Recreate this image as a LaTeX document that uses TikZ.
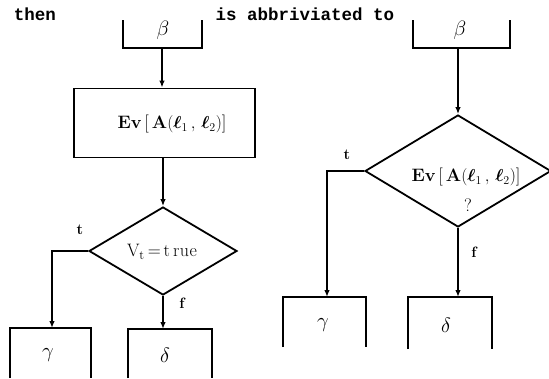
\documentclass[tikz,border=0pt]{standalone}
\usepackage{fontspec}
\usepackage{amsmath,bm}
\newfontfamily\typew{Liberation Mono}
\usetikzlibrary{shapes.geometric,arrows.meta}
\begin{document}
\begin{tikzpicture}[x=1pt,y=-1pt,
  ln/.style={line width=2.6pt},
  arr/.style={ln,-{Latex[length=7pt,width=5.5pt]}},
  obox/.style={line width=1.8pt},
  words/.style={font=\typew\bfseries\fontsize{17.5}{18}\selectfont,inner sep=0pt},
  sym/.style={font=\fontsize{20}{20}\selectfont,inner sep=0pt},
  lbl/.style={font=\bfseries\fontsize{15}{15}\selectfont,inner sep=0pt},
  cond/.style={font=\fontsize{18}{18}\selectfont,inner sep=0pt},
  dia/.style={diamond,draw,line width=1.8pt,inner sep=0pt}]
\useasboundingbox (0,0) rectangle (549,378);
% ---------- left ----------
\node[words] (then) at (35,14) {then};
\node[sym] (beta1) at (163,30) {$\beta$};
\draw[obox] (123,20) -- (123,48) -- (202,48) -- (202,20);
\coordinate (b1) at (162,48);
\node[draw,obox,minimum width=181pt,minimum height=69pt,inner sep=0pt] (ev) at (164.5,123) {};
\node[cond] (evtext) at (172,124) {\textbf{Ev}\,\raisebox{0.5pt}{[}\,\textbf{A}$(\bm{\ell}_1\,,\,\bm{\ell}_2)$]};
\draw[arr] (b1) -- (b1 |- ev.north);
\node[dia,minimum width=148pt,minimum height=88pt] (d1) at (163,251) {};
\node[cond] (vt) at (162,252) {V$_{\mathrm{t}}$\,=\,t\,r\hspace{0.5pt}u\hspace{0.5pt}e};
\draw[arr] (ev.south -| d1.north) -- (d1.north);
\coordinate (r1) at (52,328);
\coordinate (s1) at (163,329);
\draw[arr] (d1.west) -- (r1 |- d1.west) -- (r1);
\draw[arr] (d1.south) -- (s1);
\node[lbl] (t1) at (80,230) {t};
\node[lbl] (f1) at (182,303) {f};
\draw[obox] (10,378) -- (10,328) -- (91,328) -- (91,378);
\node[sym] (g1) at (48,355) {$\gamma$};
\draw[obox] (128,378) -- (128,329) -- (212,329) -- (212,378);
\node[sym] (de1) at (165,355) {$\delta$};
% ---------- right ----------
\node[words] (abbr) at (305,14) {is abbriviated to};
\node[sym] (beta2) at (460,30) {$\beta$};
\draw[obox] (413,20) -- (413,48) -- (510,48) -- (510,20);
\coordinate (b2) at (458,48);
\node[dia,minimum width=186pt,minimum height=112pt] (d2) at (458,171) {};
\node[cond] (evtext2) at (466,177) {\textbf{Ev}\,\raisebox{0.5pt}{[}\,\textbf{A}$(\bm{\ell}_1\,,\,\bm{\ell}_2)$]};
\node[cond] (q) at (468,205) {?};
\draw[arr] (b2) -- (d2.north);
\coordinate (r2) at (327,297);
\coordinate (s2) at (458,297);
\draw[arr] (d2.west) -- (r2 |- d2.west) -- (r2);
\draw[arr] (d2.south) -- (s2);
\node[lbl] (t2) at (347,155) {t};
\node[lbl] (f2) at (474,252) {f};
\draw[obox] (283,347) -- (283,297) -- (366,297) -- (366,347);
\node[sym] (g2) at (323,325) {$\gamma$};
\draw[obox] (408,349) -- (408,297) -- (492,297) -- (492,349);
\node[sym] (de2) at (446,325) {$\delta$};
\end{tikzpicture}
\end{document}
